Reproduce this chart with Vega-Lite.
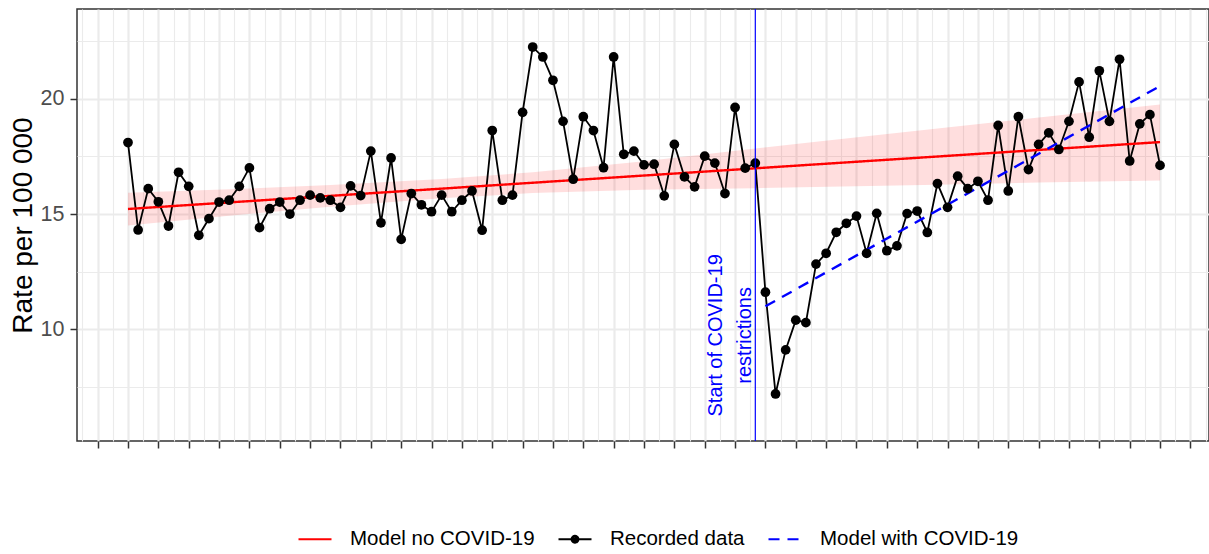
{
  "$schema": "https://vega.github.io/schema/vega-lite/v6.json",
  "width": 1132,
  "height": 432,
  "autosize": {"type": "none"},
  "padding": {"left": 77, "top": 9, "right": 0, "bottom": 113},
  "background": "white",
  "config": {
    "font": "Liberation Sans",
    "view": {"stroke": "#333333", "strokeWidth": 1.5},
    "legend": {
      "orient": "none",
      "legendX": 220,
      "legendY": 512,
      "direction": "horizontal",
      "symbolType": "stroke",
      "symbolSize": 1089,
      "symbolStrokeWidth": 2.2,
      "symbolOpacity": 1,
      "labelFontSize": 20.5,
      "labelFont": "Liberation Sans",
      "labelColor": "#000000",
      "labelLimit": 0,
      "labelOffset": 17,
      "columnPadding": 19,
      "padding": 0
    }
  },
  "datasets": {
    "band": [
      {"t": 0, "lo": 14.5, "hi": 15.92},
      {"t": 10, "lo": 14.93, "hi": 16.07},
      {"t": 20, "lo": 15.32, "hi": 16.26},
      {"t": 31, "lo": 15.68, "hi": 16.52},
      {"t": 40, "lo": 15.91, "hi": 16.81},
      {"t": 51, "lo": 16.05, "hi": 17.29},
      {"t": 62, "lo": 16.12, "hi": 17.84},
      {"t": 68, "lo": 16.17, "hi": 18.13},
      {"t": 80, "lo": 16.27, "hi": 18.71},
      {"t": 90, "lo": 16.37, "hi": 19.19},
      {"t": 102, "lo": 16.45, "hi": 19.75}
    ],
    "models": [
      {"t": 0, "value": 15.22, "series": "Model no COVID-19"},
      {"t": 102, "value": 18.12, "series": "Model no COVID-19"},
      {"t": 63, "value": 11.0, "series": "Model with COVID-19"},
      {"t": 102, "value": 20.55, "series": "Model with COVID-19"}
    ],
    "recorded": [
      {"t": 0, "value": 18.1}, {"t": 1, "value": 14.31}, {"t": 2, "value": 16.1}, {"t": 3, "value": 15.53},
      {"t": 4, "value": 14.48}, {"t": 5, "value": 16.81}, {"t": 6, "value": 16.2}, {"t": 7, "value": 14.08},
      {"t": 8, "value": 14.8}, {"t": 9, "value": 15.52}, {"t": 10, "value": 15.6}, {"t": 11, "value": 16.2},
      {"t": 12, "value": 17.0}, {"t": 13, "value": 14.41}, {"t": 14, "value": 15.23}, {"t": 15, "value": 15.52},
      {"t": 16, "value": 15.0}, {"t": 17, "value": 15.6}, {"t": 18, "value": 15.82}, {"t": 19, "value": 15.7},
      {"t": 20, "value": 15.6}, {"t": 21, "value": 15.29}, {"t": 22, "value": 16.22}, {"t": 23, "value": 15.8},
      {"t": 24, "value": 17.73}, {"t": 25, "value": 14.62}, {"t": 26, "value": 17.43}, {"t": 27, "value": 13.9},
      {"t": 28, "value": 15.89}, {"t": 29, "value": 15.4}, {"t": 30, "value": 15.1}, {"t": 31, "value": 15.82},
      {"t": 32, "value": 15.1}, {"t": 33, "value": 15.6}, {"t": 34, "value": 16.0}, {"t": 35, "value": 14.3},
      {"t": 36, "value": 18.62}, {"t": 37, "value": 15.6}, {"t": 38, "value": 15.82}, {"t": 39, "value": 19.41},
      {"t": 40, "value": 22.24}, {"t": 41, "value": 21.81}, {"t": 42, "value": 20.8}, {"t": 43, "value": 19.02},
      {"t": 44, "value": 16.51}, {"t": 45, "value": 19.22}, {"t": 46, "value": 18.62}, {"t": 47, "value": 17.01},
      {"t": 48, "value": 21.81}, {"t": 49, "value": 17.59}, {"t": 50, "value": 17.73}, {"t": 51, "value": 17.13},
      {"t": 52, "value": 17.16}, {"t": 53, "value": 15.79}, {"t": 54, "value": 18.02}, {"t": 55, "value": 16.61},
      {"t": 56, "value": 16.18}, {"t": 57, "value": 17.51}, {"t": 58, "value": 17.21}, {"t": 59, "value": 15.89},
      {"t": 60, "value": 19.62}, {"t": 61, "value": 16.99}, {"t": 62, "value": 17.21}, {"t": 63, "value": 11.61},
      {"t": 64, "value": 7.2}, {"t": 65, "value": 9.11}, {"t": 66, "value": 10.4}, {"t": 67, "value": 10.29},
      {"t": 68, "value": 12.83}, {"t": 69, "value": 13.3}, {"t": 70, "value": 14.21}, {"t": 71, "value": 14.6},
      {"t": 72, "value": 14.91}, {"t": 73, "value": 13.3}, {"t": 74, "value": 15.03}, {"t": 75, "value": 13.41},
      {"t": 76, "value": 13.62}, {"t": 77, "value": 15.02}, {"t": 78, "value": 15.13}, {"t": 79, "value": 14.2},
      {"t": 80, "value": 16.32}, {"t": 81, "value": 15.29}, {"t": 82, "value": 16.64}, {"t": 83, "value": 16.1},
      {"t": 84, "value": 16.42}, {"t": 85, "value": 15.6}, {"t": 86, "value": 18.84}, {"t": 87, "value": 16.0},
      {"t": 88, "value": 19.22}, {"t": 89, "value": 16.93}, {"t": 90, "value": 18.02}, {"t": 91, "value": 18.52},
      {"t": 92, "value": 17.8}, {"t": 93, "value": 19.02}, {"t": 94, "value": 20.73}, {"t": 95, "value": 18.33},
      {"t": 96, "value": 21.21}, {"t": 97, "value": 19.02}, {"t": 98, "value": 21.71}, {"t": 99, "value": 17.3},
      {"t": 100, "value": 18.91}, {"t": 101, "value": 19.31}, {"t": 102, "value": 17.11}
    ],
    "event": [{"t": 62}],
    "note": [{"t": 58.1, "value": 9.74, "label": "Start of COVID-19\nrestrictions"}]
  },
  "layer": [
    {
      "data": {"name": "band"},
      "mark": {"type": "area", "color": "#ff0000", "opacity": 0.13},
      "encoding": {
        "x": {
          "field": "t", "type": "quantitative", "title": null,
          "scale": {"domain": [-5.04, 106.84], "nice": false, "zero": false},
          "axis": {
            "values": [-4.5,-3,-1.5,0,1.5,3,4.5,6,7.5,9,10.5,12,13.5,15,16.5,18,19.5,21,22.5,24,25.5,27,28.5,30,31.5,33,34.5,36,37.5,39,40.5,42,43.5,45,46.5,48,49.5,51,52.5,54,55.5,57,58.5,60,61.5,63,64.5,66,67.5,69,70.5,72,73.5,75,76.5,78,79.5,81,82.5,84,85.5,87,88.5,90,91.5,93,94.5,96,97.5,99,100.5,102,103.5,105,106.5],
            "tickCount": 500,
            "labels": false,
            "title": null,
            "domain": false,
            "tickSize": 7,
            "tickWidth": 1.5,
            "tickColor": "#333333",
            "tickOpacity": {"condition": {"test": "datum.value % 3 === 0", "value": 1}, "value": 0},
            "grid": true,
            "gridColor": "#ebebeb",
            "gridWidth": {"condition": {"test": "datum.value % 3 === 0", "value": 2.2}, "value": 1.1}
          }
        },
        "y": {
          "field": "lo", "type": "quantitative", "title": "Rate per 100 000",
          "scale": {"domain": [5.16, 23.89], "nice": false, "zero": false},
          "axis": {
            "values": [7.5, 10, 12.5, 15, 17.5, 20, 22.5],
            "title": "Rate per 100 000",
            "titleFont": "Liberation Sans",
            "titleFontSize": 28,
            "titleFontWeight": "normal",
            "titleColor": "#000000",
            "titlePadding": 3,
            "labelFont": "Liberation Sans",
            "labelFontSize": 21.5,
            "labelColor": "#4d4d4d",
            "labelPadding": 6,
            "labelExpr": "datum.value % 5 === 0 ? '' + datum.value : ''",
            "domain": false,
            "tickSize": 7,
            "tickWidth": 1.5,
            "tickColor": "#333333",
            "tickOpacity": {"condition": {"test": "datum.value % 5 === 0", "value": 1}, "value": 0},
            "grid": true,
            "gridColor": "#ebebeb",
            "gridWidth": {"condition": {"test": "datum.value % 5 === 0", "value": 2.2}, "value": 1.1}
          }
        },
        "y2": {"field": "hi"}
      }
    },
    {
      "data": {"name": "recorded"},
      "mark": {"type": "line", "strokeWidth": 1.8, "color": "#000000"},
      "encoding": {
        "x": {"field": "t", "type": "quantitative", "title": null},
        "y": {"field": "value", "type": "quantitative", "title": "Rate per 100 000"}
      }
    },
    {
      "data": {"name": "models"},
      "mark": {"type": "line", "strokeWidth": 2.4},
      "encoding": {
        "x": {"field": "t", "type": "quantitative", "title": null},
        "y": {"field": "value", "type": "quantitative", "title": "Rate per 100 000"},
        "color": {
          "field": "series", "type": "nominal",
          "scale": {"domain": ["Model no COVID-19", "Recorded data", "Model with COVID-19"], "range": ["#ff0000", "#000000", "#0000ff"]},
          "legend": {"title": null}
        },
        "strokeDash": {
          "field": "series", "type": "nominal",
          "scale": {"domain": ["Model no COVID-19", "Recorded data", "Model with COVID-19"], "range": [[1, 0], [1, 0], [11, 8]]},
          "legend": {"title": null}
        }
      }
    },
    {
      "data": {"name": "models"},
      "mark": {"type": "point", "opacity": 0, "strokeWidth": 2.2},
      "encoding": {
        "x": {"field": "t", "type": "quantitative", "title": null},
        "y": {"field": "value", "type": "quantitative", "title": "Rate per 100 000"},
        "shape": {
          "field": "series", "type": "nominal",
          "scale": {"domain": ["Model no COVID-19", "Recorded data", "Model with COVID-19"], "range": ["stroke", "M-1,0H1M-0.2,0A0.2,0.2,0,1,1,0.2,0A0.2,0.2,0,1,1,-0.2,0M-0.12,0A0.12,0.12,0,1,1,0.12,0A0.12,0.12,0,1,1,-0.12,0M-0.05,0A0.05,0.05,0,1,1,0.05,0A0.05,0.05,0,1,1,-0.05,0", "stroke"]},
          "legend": {"title": null}
        }
      }
    },
    {
      "data": {"name": "recorded"},
      "mark": {"type": "point", "filled": true, "color": "#000000", "size": 95, "opacity": 1},
      "encoding": {
        "x": {"field": "t", "type": "quantitative", "title": null},
        "y": {"field": "value", "type": "quantitative", "title": "Rate per 100 000"}
      }
    },
    {
      "data": {"name": "event"},
      "mark": {"type": "rule", "color": "#0000ff", "strokeWidth": 1.2},
      "encoding": {
        "x": {"field": "t", "type": "quantitative", "title": null}
      }
    },
    {
      "data": {"name": "note"},
      "mark": {"type": "text", "angle": 270, "fontSize": 20, "lineHeight": 29, "color": "#0000ff", "align": "center", "baseline": "middle", "font": "Liberation Sans", "lineBreak": "\n"},
      "encoding": {
        "x": {"field": "t", "type": "quantitative", "title": null},
        "y": {"field": "value", "type": "quantitative", "title": "Rate per 100 000"},
        "text": {"field": "label", "type": "nominal"}
      }
    }
  ]
}
